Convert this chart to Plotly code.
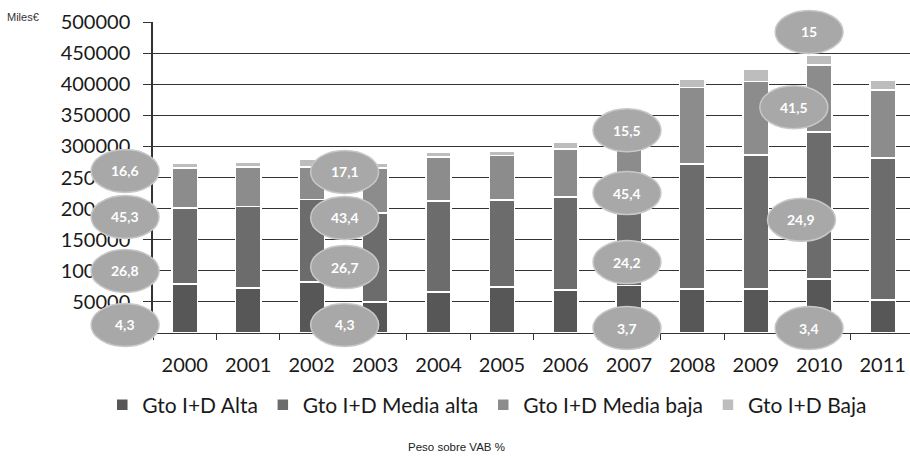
import plotly.graph_objects as go

# --- data (Miles €) ---
years = ['2000', '2001', '2002', '2003', '2004', '2005',
         '2006', '2007', '2008', '2009', '2010', '2011']
alta = [79000, 72000, 82000, 50000, 66000, 74000, 69000, 76000, 71000, 71000, 87000, 53000]
media_alta = [122000, 131000, 133000, 143000, 146000, 140000, 150000, 146000, 201000, 215000, 236000, 228000]
media_baja = [64000, 64000, 52000, 72000, 71000, 71000, 77000, 76000, 123000, 118000, 108000, 110000]
baja = [8000, 8000, 13000, 8000, 8000, 8000, 11000, 8000, 13000, 20000, 16000, 16000]

series_names = ['Gto I+D Alta', 'Gto I+D Media alta', 'Gto I+D Media baja', 'Gto I+D Baja']
series_colors = ['#575757', '#6c6c6c', '#8c8c8c', '#bdbdbd']

# Peso sobre VAB % labels (ellipses): column position (category index), value level, text
peso_x = [-0.94, -0.94, -0.94, -0.94,
          2.52, 2.52, 2.52, 2.52,
          6.97, 6.97, 6.97, 6.97,
          9.84, 9.60, 9.72, 9.84]
peso_y = [260500, 186500, 99700, 12900,
          259000, 185000, 106000, 12900,
          326000, 225000, 114000, 8000,
          484000, 363000, 182000, 8000]
peso_text = ['16,6', '45,3', '26,8', '4,3',
             '17,1', '43,4', '26,7', '4,3',
             '15,5', '45,4', '24,2', '3,7',
             '15', '41,5', '24,9', '3,4']

X_RANGE = [-0.5, 11.43]
Y_RANGE = [0, 500000]
W, H = 910, 456
M = dict(l=153, r=0, t=22, b=123)
plot_w = W - M['l'] - M['r']
plot_h = H - M['t'] - M['b']

fig = go.Figure()
for name, vals, col in zip(series_names, [alta, media_alta, media_baja, baja], series_colors):
    fig.add_trace(go.Bar(
        x=years, y=vals, name=name,
        marker=dict(color=col, line=dict(color='white', width=1.5)),
    ))


def xp(v):
    return (v - X_RANGE[0]) / (X_RANGE[1] - X_RANGE[0])


def yp(v):
    return (v - Y_RANGE[0]) / (Y_RANGE[1] - Y_RANGE[0])


ew = 34 / plot_w   # ellipse half width (paper units)
eh = 21.5 / plot_h  # ellipse half height (paper units)

for px, py, txt in zip(peso_x, peso_y, peso_text):
    cx, cy = xp(px), yp(py)
    fig.add_shape(type='circle', xref='paper', yref='paper',
                  x0=cx - ew, x1=cx + ew, y0=cy - eh, y1=cy + eh,
                  fillcolor='#a8a8a8', line=dict(color='#c8c8c8', width=1.5),
                  layer='above')
    fig.add_annotation(x=cx, y=cy, xref='paper', yref='paper', text='<b>' + txt + '</b>',
                       showarrow=False, xanchor='center', yanchor='middle',
                       font=dict(family='Lato, sans-serif', size=14, color='white'))

fig.add_annotation(text='Miles€', xref='paper', yref='paper', showarrow=False,
                   x=-148 / plot_w, y=1 + 5 / plot_h, xanchor='left', yanchor='middle',
                   font=dict(family='Liberation Sans, Arial', size=11, color='#333'))

fig.add_annotation(text='Peso sobre VAB %', xref='paper', yref='paper', showarrow=False,
                   x=(456 - M['l']) / plot_w, y=-(447 - (H - M['b'])) / plot_h,
                   xanchor='center', yanchor='middle',
                   font=dict(family='Liberation Sans, Arial', size=11.5, color='#222'))

fig.update_layout(
    width=W, height=H, margin=M,
    barmode='stack', bargap=0.6,
    plot_bgcolor='white', paper_bgcolor='white',
    font=dict(family='Lato, sans-serif', color='#1a1a1a'),
    xaxis=dict(type='category', range=X_RANGE, showgrid=False, automargin=False,
               tickson='boundaries', ticks='outside', ticklen=6, tickcolor='#333',
               showline=True, linecolor='#333', linewidth=1,
               tickfont=dict(size=20), ticklabelstandoff=14),
    yaxis=dict(range=Y_RANGE, tickvals=[50000 * i for i in range(1, 11)], automargin=False,
               tickformat='d', showgrid=True, gridcolor='#333', gridwidth=1,
               ticks='outside', ticklen=8, tickcolor='#333',
               showline=True, linecolor='#333', linewidth=1.5,
               tickfont=dict(size=20), ticklabelstandoff=9, zeroline=False),
    legend=dict(orientation='h', x=-0.067, xanchor='left', y=-0.232, yanchor='middle',
                font=dict(size=21), traceorder='normal'),
    showlegend=True,
)

fig.write_html("out.html", config={'displayModeBar': False},
               post_script="document.body.style.margin = '0';")
